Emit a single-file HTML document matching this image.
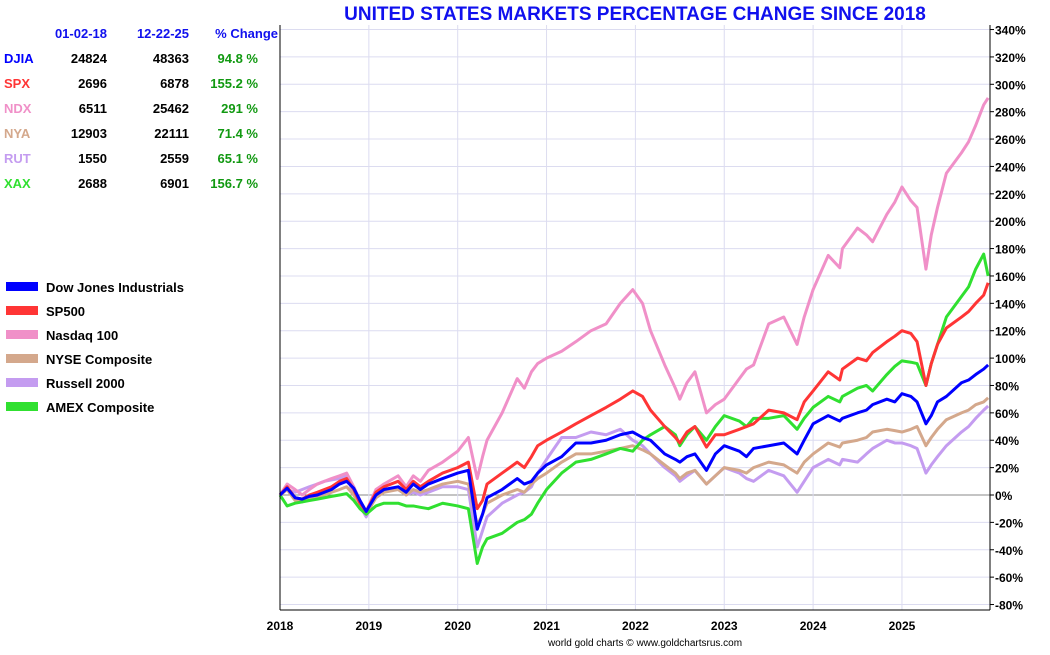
<!DOCTYPE html>
<html><head><meta charset="utf-8"><style>
body{margin:0;background:#fff;font-family:"Liberation Sans",sans-serif}
svg text{font-family:"Liberation Sans",sans-serif}
</style></head><body>
<svg id="c" width="1050" height="650">
<text x="635" y="20" text-anchor="middle" font-size="19" font-weight="bold" fill="#1010ee">UNITED STATES MARKETS PERCENTAGE CHANGE SINCE 2018</text>
<g id="tbl" font-size="13" font-weight="bold"></g>
<g id="grid"></g>
<g id="series"></g>
<g id="axes"></g>
<g id="legend" font-size="13" font-weight="bold"></g>
<text x="645" y="646" text-anchor="middle" font-size="10" fill="#000">world gold charts © www.goldchartsrus.com</text>
</svg>
<script>
const dates=[2018.0,2018.08,2018.17,2018.25,2018.33,2018.42,2018.5,2018.58,2018.67,2018.75,2018.83,2018.9,2018.97,2019.08,2019.17,2019.33,2019.42,2019.5,2019.58,2019.67,2019.83,2020.0,2020.12,2020.22,2020.28,2020.33,2020.5,2020.67,2020.75,2020.83,2020.9,2021.0,2021.17,2021.33,2021.5,2021.67,2021.83,2021.97,2022.08,2022.17,2022.33,2022.45,2022.5,2022.58,2022.67,2022.8,2022.9,2023.0,2023.17,2023.25,2023.33,2023.5,2023.67,2023.82,2023.9,2024.0,2024.17,2024.3,2024.33,2024.5,2024.6,2024.67,2024.83,2024.92,2025.0,2025.1,2025.17,2025.27,2025.33,2025.4,2025.5,2025.67,2025.75,2025.83,2025.92,2025.97];
const djia=[0,5,-2,-3,-1,0,2,4,8,10,5,-4,-12,0,4,6,2,8,4,8,12,16,18,-25,-14,-2,4,12,8,10,16,22,28,38,38,40,44,46,42,40,30,26,24,28,30,18,30,36,32,28,34,36,38,30,40,52,58,54,56,60,62,66,70,68,74,72,68,52,58,68,72,82,84,88,92,95];
const spx=[0,6,-2,-3,0,2,4,6,10,12,4,-6,-12,2,6,10,4,10,6,10,16,20,24,-10,-4,8,16,24,20,28,36,40,46,52,58,64,70,76,72,62,50,42,38,46,50,35,44,44,48,50,52,62,60,55,68,76,90,84,92,100,98,104,112,116,120,118,112,80,96,110,122,130,134,140,146,155];
const ndx=[0,8,4,0,4,8,10,12,14,16,6,-4,-12,4,8,14,6,14,10,18,24,32,42,12,28,40,60,85,78,90,96,100,105,112,120,125,140,150,140,120,95,78,70,82,90,60,66,70,85,92,95,125,130,110,130,150,175,166,180,195,190,185,205,214,225,215,210,165,190,210,235,250,258,270,285,290];
const nya=[0,4,-4,-5,-2,-1,0,2,4,6,0,-8,-14,-2,2,4,0,4,2,4,8,10,8,-22,-14,-6,0,4,2,8,12,16,24,30,30,32,34,36,33,30,22,16,12,16,18,8,14,20,18,16,20,24,22,16,24,30,38,35,38,40,42,46,48,47,46,48,50,36,42,48,55,60,62,66,68,71];
const rut=[0,4,2,4,6,8,10,11,12,14,0,-8,-16,0,4,4,0,2,0,2,6,6,4,-38,-26,-16,-6,0,2,6,16,26,42,42,46,44,48,40,36,30,20,14,10,14,18,8,14,20,16,12,10,18,14,2,10,20,26,22,26,24,30,34,40,38,38,36,34,16,22,28,36,46,50,56,62,65];
const xax=[0,-8,-6,-5,-4,-3,-2,-1,0,1,-4,-10,-14,-8,-6,-6,-8,-8,-9,-10,-6,-8,-10,-50,-38,-32,-28,-20,-18,-14,-6,4,16,24,26,30,34,32,40,44,50,44,36,44,50,40,50,58,54,50,56,56,58,48,56,64,72,68,72,78,80,76,88,94,98,97,96,80,96,110,130,145,152,165,176,160];
const yTicks=[-80,-60,-40,-20,0,20,40,60,80,100,120,140,160,180,200,220,240,260,280,300,320,340];
const xTicks=[2018,2019,2020,2021,2022,2023,2024,2025];
const tableRows=[["DJIA","24824","48363","94.8 %"],["SPX","2696","6878","155.2 %"],["NDX","6511","25462","291 %"],["NYA","12903","22111","71.4 %"],["RUT","1550","2559","65.1 %"],["XAX","2688","6901","156.7 %"]];
const names=["Dow Jones Industrials","SP500","Nasdaq 100","NYSE Composite","Russell 2000","AMEX Composite"];
const colors=["#0000ff","#ff3535","#f090c8","#d4a88c","#c49cf0","#30e030"];
const NS="http://www.w3.org/2000/svg";
const X=d=>280+(d-2018)*88.85, Y=v=>495-v*1.369;
function mk(tag,attrs,parent,txt){const e=document.createElementNS(NS,tag);for(const k in attrs)e.setAttribute(k,attrs[k]);if(txt!=null)e.textContent=txt;parent.appendChild(e);return e;}
const grid=document.getElementById('grid'),axes=document.getElementById('axes');
yTicks.forEach(t=>{const l=mk('line',{x1:280,x2:990,y1:Y(t),y2:Y(t),stroke:t===0?'#888':'#dcdcf0','stroke-width':1},grid);

const tx=mk('text',{x:995,y:Y(t)+5,'font-size':12,'font-weight':'bold'},axes,t+'%');

mk('line',{x1:990,x2:994,y1:Y(t),y2:Y(t),stroke:'#000'},axes);});
xTicks.forEach(t=>{const l=mk('line',{x1:X(t),x2:X(t),y1:25,y2:610,stroke:'#dcdcf0'},grid);

const tx=mk('text',{x:X(t),y:630,'font-size':12,'font-weight':'bold','text-anchor':'middle'},axes,t);
});
mk('line',{x1:280,x2:280,y1:25,y2:610,stroke:'#000'},axes);
mk('line',{x1:990,x2:990,y1:25,y2:610,stroke:'#000'},axes);
mk('line',{x1:280,x2:990,y1:610,y2:610,stroke:'#000'},axes);
const order=[4,3,5,2,1,0];const sets=[djia,spx,ndx,nya,rut,xax];
const sg=document.getElementById('series');
order.forEach(i=>{const p=mk('polyline',{points:sets[i].map((v,j)=>X(dates[j])+','+Y(v)).join(' '),fill:'none',stroke:colors[i],'stroke-width':3,'stroke-linejoin':'round'},sg);
});
const tb=document.getElementById('tbl');
[["01-02-18",107],["12-22-25",189],["% Change",278]].forEach(h=>{const t=mk('text',{x:h[1],y:38,'text-anchor':'end',fill:'#1010ee'},tb,h[0]);});
tableRows.forEach((r,i)=>{const y=63+i*25;
const a=mk('text',{x:4,y:y,fill:colors[i]},tb,r[0]);
const b=mk('text',{x:107,y:y,'text-anchor':'end'},tb,r[1]);
const c=mk('text',{x:189,y:y,'text-anchor':'end'},tb,r[2]);
const d=mk('text',{x:258,y:y,'text-anchor':'end',fill:'#119911'},tb,r[3]);});
const lg=document.getElementById('legend');
names.forEach((n,i)=>{const y=288+i*24;
const r=mk('rect',{x:6,y:y-6,width:32,height:9,fill:colors[i]},lg);
const t=mk('text',{x:46,y:y+4},lg,n);});
</script></body></html>
